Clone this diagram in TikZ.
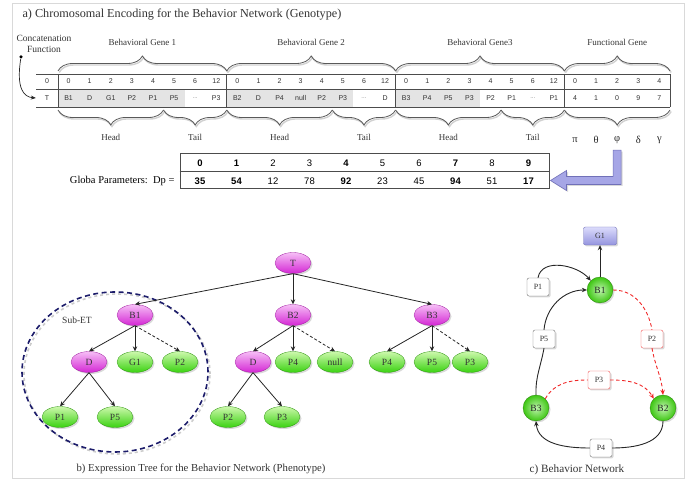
\documentclass[tikz,border=0pt]{standalone}
\usepackage{fontspec}
\setmainfont{Liberation Serif}
\setsansfont{Liberation Sans}
\usetikzlibrary{arrows.meta,calc,decorations.pathreplacing,shapes.geometric,shadows,positioning}

\definecolor{framegray}{HTML}{D9D9D9}
\definecolor{cellgray}{HTML}{E4E4E4}
\definecolor{subetblue}{HTML}{1C1C6A}
\definecolor{pinkhi}{HTML}{F6BEF6}
\definecolor{pinklo}{HTML}{D426D4}
\definecolor{greenhi}{HTML}{CCF8AC}
\definecolor{greenlo}{HTML}{3AD210}
\definecolor{netgreen}{HTML}{44DC14}
\definecolor{lavhi}{HTML}{DCDCFC}
\definecolor{lavlo}{HTML}{9494DE}
\definecolor{lavedge}{HTML}{7070B8}
\definecolor{arrowlav}{HTML}{A6A6E6}
\definecolor{redline}{HTML}{F02828}

\newcommand{\tailgap}{\textcolor{gray}{\raisebox{-2pt}{\fontsize{6}{6}\selectfont...}}}
\def\cw{21.1}

\tikzset{
  softshadow/.style={drop shadow={opacity=0.3, shadow xshift=1.5pt, shadow yshift=-1.5pt}},
  tabline/.style={draw=black!70, line width=0.8pt},
  cell/.style={font=\sffamily\fontsize{7}{8}\selectfont, text=black!80, inner sep=0pt},
  gbrace/.style={decorate, decoration={brace, amplitude=15pt}, draw=black!65, line width=0.8pt},
  hbrace/.style={decorate, decoration={brace, mirror, amplitude=15pt}, draw=black!65, line width=0.8pt},
  braceshade/.style={draw=black!18, line width=1.4pt, transform canvas={xshift=1.2pt, yshift=-1.5pt}},
  bracelabel/.style={font=\fontsize{9}{10}\selectfont, text=black!80},
  caption/.style={font=\fontsize{10.7}{13}\selectfont, text=black!80},
  dpbox/.style={draw=black!70, line width=1pt, minimum width=369pt, minimum height=35pt, inner sep=0pt},
  dpcell/.style={font=\sffamily\fontsize{9.5}{10}\selectfont, inner sep=0pt},
  fatarrow/.style={fill=arrowlav, draw=lavedge, line width=0.6pt, softshadow},
  treenode/.style={ellipse, minimum width=36pt, minimum height=21pt, inner sep=0pt,
    font=\fontsize{9.5}{10}\selectfont, text=black!80, softshadow},
  pinknode/.style={treenode, top color=pinkhi, bottom color=pinklo, draw=pinklo!75!black, line width=0.3pt},
  greennode/.style={treenode, top color=greenhi, bottom color=greenlo, draw=greenlo!70!black, line width=0.3pt},
  treearrow/.style={-{Stealth[length=5pt,width=4.5pt]}, line width=0.8pt, black!85},
  dashedarrow/.style={treearrow, dashed, dash pattern=on 3pt off 2pt},
  subet/.style={ellipse, minimum width=186pt, minimum height=160pt, inner sep=0pt,
    draw=subetblue, line width=1.6pt, dashed, dash pattern=on 5pt off 3.5pt},
  ballnode/.style={circle, minimum size=26pt, inner sep=0pt, shading=radial,
    inner color=netgreen!35!white, outer color=netgreen!90!black, draw=netgreen!60!black, line width=0.3pt,
    font=\fontsize{9.5}{10}\selectfont, text=black!85, softshadow},
  pbox/.style={rectangle, rounded corners=2pt, draw=black!55, fill=white, minimum width=22pt,
    minimum height=18pt, inner sep=1pt, font=\fontsize{8}{9}\selectfont, text=black!80, softshadow},
  redbox/.style={pbox, draw=redline!80},
  gbox/.style={rectangle, rounded corners=2pt, top color=lavhi, bottom color=lavlo, draw=lavedge,
    minimum width=33pt, minimum height=18pt, font=\fontsize{8}{9}\selectfont, text=black!80, softshadow},
  netline/.style={line width=0.9pt, black!85},
  netarrow/.style={netline, -{Stealth[length=5pt,width=4.5pt]}},
  redpath/.style={line width=0.9pt, redline, dashed, dash pattern=on 3.5pt off 2.5pt},
  redarrow/.style={redpath, -{Stealth[length=5pt,width=4.5pt]}},
}

\begin{document}
\begin{tikzpicture}[x=1pt, y=1pt]
  \useasboundingbox (0,0) rectangle (697,481);
  \draw[framegray, line width=0.8pt] (12,3) rectangle (684,478);

  % a) genotype
  \node[caption, anchor=west, font=\fontsize{12.2}{14}\selectfont] (titlea) at (19,466) {a) Chromosomal Encoding for the Behavior Network (Genotype)};
  \node[bracelabel, align=center, font=\fontsize{9.5}{11}\selectfont] (concat) at (44,437) {Concatenation\\Function};

  \fill[cellgray] (58,374) rectangle ++({6*\cw},18);
  \fill[cellgray] (226.8,374) rectangle ++({6*\cw},18);
  \fill[cellgray] (395.6,374) rectangle ++({4*\cw},18);
  \foreach \yy in {407,392,374}
    \draw[tabline] (36,\yy) -- (670,\yy);
  \foreach \xx in {58,226.8,395.6,564.4,670}
    \draw[tabline] (\xx,407) -- (\xx,374);

  \node[cell] (idxT) at (47,399.5) {0};
  \node[cell, minimum width=22pt] (tcell) at (47,383) {T};
  \foreach \lab [count=\k from 0] in {0,1,2,3,4,5,6,12,0,1,2,3,4,5,6,12,0,1,2,3,4,5,6,12,0,1,2,3,4}
    \node[cell] (idx\k) at ({58+\cw*(\k+0.5)},399.5) {\lab};
  \foreach \lab [count=\k from 0] in {B1,D,G1,P2,P1,P5,\tailgap,P3,B2,D,P4,null,P2,P3,\tailgap,D,
      B3,P4,P5,P3,P2,P1,\tailgap,P1,4,1,0,9,7}
    \node[cell] (sym\k) at ({58+\cw*(\k+0.5)},383) {\lab};

  \node[circle, fill=black, inner sep=0pt, minimum size=3.5pt] (cdot) at (21,424) {};
  \draw[-{Stealth[length=5pt,width=4pt]}, line width=0.7pt, black!85]
    (cdot) .. controls (16,392) and (24,384) .. (tcell.west);

  % braces over the genes
  \foreach \xa/\xb/\xm/\txt in {58/226.8/142.4/Behavioral Gene 1, 226.8/395.6/311.2/Behavioral Gene 2,
      395.6/564.4/480/Behavioral Gene3, 564.4/670/617.2/Functional Gene} {
    \draw[gbrace, braceshade] (\xa,410) -- (\xb,410);
    \draw[gbrace] (\xa,410) -- (\xb,410);
    \node[bracelabel] (gene\xm) at (\xm,439) {\txt};
  }
  \foreach \xa/\xb/\txt in {58/163.5/Head, 163.5/226.8/Tail, 226.8/332.3/Head, 332.3/395.6/Tail,
      395.6/501.1/Head, 501.1/564.4/Tail, 564.4/670/} {
    \draw[hbrace, braceshade] (\xa,371) -- (\xb,371);
    \draw[hbrace] (\xa,371) -- (\xb,371);
    \node[bracelabel] (part\xa) at ({(\xa+\xb)/2},344) {\txt};
  }
  \foreach \gr [count=\k from 0] in {π,θ,φ,δ,γ}
    \node[font=\fontsize{10.5}{11}\selectfont, text=black!85] (greek\k) at ({564.4+\cw*(\k+0.5)},341) {\gr};

  % global parameters
  \node[dpbox] (dp) at (364.5,309.5) {};
  \draw[tabline] (dp.west) -- (dp.east);
  \foreach \hd/\vl/\wt [count=\k from 0] in {0/35/\bfseries,1/54/\bfseries,2/12/,3/78/,4/92/\bfseries,
      5/23/,6/45/,7/94/\bfseries,8/51/,9/17/\bfseries} {
    \node[dpcell] (dh\k) at ({200+36.5*\k},318) {\wt\hd};
    \node[dpcell] (dv\k) at ({200+36.5*\k},300) {\wt\vl};
  }
  \node[anchor=east, font=\fontsize{10.5}{11}\selectfont] (gplab) at (178,300) {Globa Parameters:\ \ Dp =};

  \coordinate (atop) at ($(greek2.south)+(0,-3)$);
  \coordinate (atip) at ($(dp.east)+(1,-9)$);
  \filldraw[fatarrow] ($(atop)+(-4,0)$) -- ($(atop)+(4,0)$) -- ($(atop|-atip)+(4,-4)$)
    -- ($(atip)+(16,-4)$) -- ($(atip)+(16,-10)$) -- (atip) -- ($(atip)+(16,10)$)
    -- ($(atip)+(16,4)$) -- ($(atop|-atip)+(-4,4)$) -- cycle;

  % b) expression tree
  \node[subet, draw=black!20, dashed] (subetshade) at (117,107) {};
  \node[subet] (subetring) at (115,109) {};
  \node[bracelabel, font=\fontsize{9.5}{10}\selectfont] (subetlab) at (77,161) {Sub-ET};

  \node[pinknode] (T) at (293,218) {T};
  \node[pinknode] (B1) at (135,166) {B1};
  \node[pinknode] (B2) at (293,166) {B2};
  \node[pinknode] (B3) at (432,166) {B3};
  \node[pinknode] (D1) at (89,119) {D};
  \node[greennode] (G1) at (135,119) {G1};
  \node[greennode] (P2a) at (180,119) {P2};
  \node[pinknode] (D2) at (253,119) {D};
  \node[greennode] (P4a) at (293,119) {P4};
  \node[greennode] (nul) at (335,119) {null};
  \node[greennode] (P4b) at (387,119) {P4};
  \node[greennode] (P5b) at (432,119) {P5};
  \node[greennode] (P3b) at (470,119) {P3};
  \node[greennode] (P1a) at (60,64) {P1};
  \node[greennode] (P5a) at (115,64) {P5};
  \node[greennode] (P2c) at (228,64) {P2};
  \node[greennode] (P3c) at (282,64) {P3};

  \foreach \a/\b in {T/B1,T/B2,T/B3,B1/D1,B1/G1,B2/D2,B2/P4a,B3/P4b,B3/P5b,D1/P1a,D1/P5a,D2/P2c,D2/P3c}
    \draw[treearrow] (\a.south) -- (\b.north);
  \foreach \a/\b in {B1/P2a,B2/nul,B3/P3b}
    \draw[dashedarrow] (\a.south) -- (\b.north);

  \node[caption] (captb) at (201,12) {b) Expression Tree for the Behavior Network (Phenotype)};

  % c) behavior network
  \node[gbox] (Gn) at (600,245) {G1};
  \node[ballnode] (N1) at (600,191) {B1};
  \node[ballnode] (N3) at (536,73) {B3};
  \node[ballnode] (N2) at (663,73) {B2};
  \node[pbox] (Q1) at (538,194) {P1};
  \node[pbox] (Q5) at (544,142) {P5};
  \node[redbox] (Q2) at (652,142) {P2};
  \node[redbox] (Q3) at (599,101) {P3};
  \node[pbox] (Q4) at (601,33) {P4};

  \draw[netarrow] (N1.north) -- (Gn.south);
  \draw[netarrow] (Q1.north) to[out=80,in=130] (N1.north west);
  \draw[netline] (N3.north) to[out=92,in=-100] (Q5.south);
  \draw[netarrow] (Q5.north) to[out=85,in=180] (N1.west);
  \draw[redpath] (N1.east) to[out=0,in=100] (Q2.north);
  \draw[redarrow] (Q2.south) to[out=-80,in=95] (N2.north);
  \draw[redpath] (N3.north east) to[out=60,in=180] (Q3.west);
  \draw[redarrow] (Q3.east) to[out=0,in=120] (N2.north west);
  \draw[netline] (N2.south) to[out=-90,in=0] (Q4.east);
  \draw[netarrow] (Q4.west) to[out=180,in=-85] (N3.south);

  \node[caption, font=\fontsize{11.2}{13}\selectfont] (captc) at (577,11) {c) Behavior Network};
\end{tikzpicture}
\end{document}
